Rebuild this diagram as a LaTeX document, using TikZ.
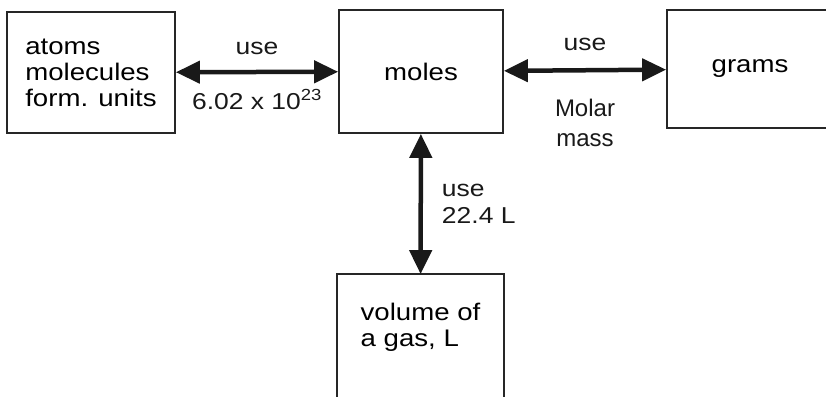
\documentclass[tikz,border=0pt]{standalone}
\usepackage{fontspec}
\setmainfont{Liberation Sans}
\newfontfamily\scanfont[FakeStretch=1.15]{Liberation Sans}
\usetikzlibrary{arrows.meta, positioning}

\begin{document}
\begin{tikzpicture}[x=1pt, y=-1pt,
    box/.style={rectangle, draw=black!85, line width=1.8pt, minimum width=165pt, minimum height=122pt, inner sep=0pt, align=left, font=\scanfont\fontsize{24}{26}\selectfont},
    boxline/.style={draw=black!85, line width=1.8pt},
    arrow/.style={{Triangle[length=24pt,width=22pt]}-{Triangle[length=24pt,width=22pt]}, line width=4.5pt, black!90},
    tag/.style={inner sep=0pt, align=left, font=\scanfont\fontsize{23}{27}\selectfont},
    plain/.style={inner sep=0pt, align=center, font=\fontsize{24}{30}\selectfont}
]
\useasboundingbox (0,0) rectangle (826,396);

% the four boxes (grams and volume run off the page edge)
\node[box, minimum width=168pt, minimum height=121pt] (atoms) at (91,72.5) {atoms\\molecules\\form. units};
\node[box, minimum width=164pt, minimum height=123pt] (moles) at (421,71.5) {moles};
\node[box, minimum width=166pt, minimum height=118pt] (grams) at (750,69) {grams};
\node[box, draw=none, minimum width=165pt, minimum height=104pt] (volume) at (420.5,327) {volume of\\a gas, L};

\draw[boxline] ([yshift=-17pt]volume.south west) -- (volume.north west) -- (volume.north east) -- ([yshift=-17pt]volume.south east);

% conversions
\draw[arrow] (atoms) -- node[tag, above=15pt] {use} node[tag, below=15pt] {6.02 x 10\textsuperscript{23}} (moles);
\draw[arrow] (moles) -- node[tag, above=17pt] {use} node[plain, below=27pt] {Molar\\mass} (grams);
\draw[arrow] (moles) -- node[tag, right=19pt] {use\\22.4 L} (volume);

\end{tikzpicture}
\end{document}
